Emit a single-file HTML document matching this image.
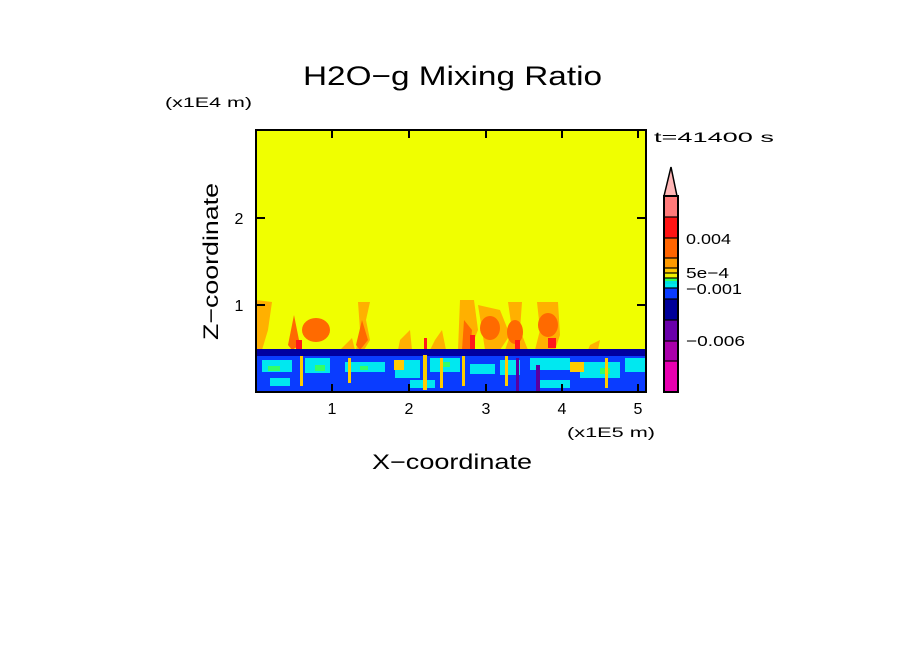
<!DOCTYPE html>
<html><head><meta charset="utf-8"><style>
body{margin:0;background:#fff;}
svg{display:block;font-family:"Liberation Sans",sans-serif;}
</style></head><body>
<svg width="904" height="654" viewBox="0 0 904 654" xmlns="http://www.w3.org/2000/svg">
<text x="303" y="85" font-size="27" textLength="299" lengthAdjust="spacingAndGlyphs" fill="#000">H2O−g Mixing Ratio</text>
<text x="165" y="107" font-size="14" textLength="87" lengthAdjust="spacingAndGlyphs" fill="#000">(x1E4 m)</text>
<text x="654" y="142" font-size="14" textLength="120" lengthAdjust="spacingAndGlyphs" fill="#000">t=41400 s</text>
<defs><clipPath id="c"><rect x="256" y="130" width="390" height="262"/></clipPath></defs>
<g clip-path="url(#c)">
<rect x="256" y="130" width="390" height="262" fill="#f0ff00"/>
<g fill="#ffb000">
<path d="M256 300 L272 302 L268 330 L262 350 L256 350Z"/>
<path d="M358 302 L370 302 L366 320 L370 340 L364 350 L356 350 L360 330Z"/>
<path d="M460 300 L474 300 L478 330 L470 350 L458 350Z"/>
<path d="M478 305 L500 310 L510 335 L500 350 L485 350 L482 330Z"/>
<path d="M508 302 L522 302 L520 330 L528 350 L505 350 L512 330Z"/>
<path d="M537 302 L558 302 L560 335 L555 350 L535 350 L540 330Z"/>
<path d="M400 340 L410 330 L412 350 L398 350Z"/><path d="M435 340 L442 330 L446 350 L430 350Z"/>
<path d="M590 345 L600 340 L598 350 L588 350Z"/><path d="M345 345 L352 338 L355 350 L340 350Z"/>
</g>
<g fill="#ff6a00">
<ellipse cx="316" cy="330" rx="14" ry="12"/>
<path d="M294 315 L300 345 L292 350 L288 345Z"/>
<path d="M464 320 L472 330 L470 350 L462 350Z"/>
<ellipse cx="490" cy="328" rx="10" ry="12"/>
<ellipse cx="515" cy="332" rx="8" ry="12"/>
<ellipse cx="548" cy="325" rx="10" ry="12"/>
<path d="M362 320 L368 340 L360 350 L356 345Z"/>
</g>
<g fill="#ff1a1a">
<rect x="296" y="340" width="6" height="10"/><rect x="470" y="335" width="5" height="15"/>
<rect x="515" y="340" width="5" height="10"/><rect x="548" y="338" width="8" height="10"/>
<rect x="424" y="338" width="3" height="12"/>
</g>
<rect x="256" y="349" width="390" height="43" fill="#0a3cff"/>
<rect x="256" y="349" width="390" height="7" fill="#0000a0"/>
<g fill="#00e8f0">
<rect x="262" y="360" width="30" height="12"/><rect x="305" y="358" width="25" height="15"/>
<rect x="345" y="362" width="40" height="10"/><rect x="395" y="360" width="25" height="18"/>
<rect x="430" y="358" width="30" height="14"/><rect x="470" y="364" width="25" height="10"/>
<rect x="500" y="360" width="20" height="15"/><rect x="530" y="358" width="40" height="12"/>
<rect x="580" y="362" width="40" height="16"/><rect x="625" y="358" width="20" height="14"/>
<rect x="270" y="378" width="20" height="8"/><rect x="410" y="380" width="25" height="8"/>
<rect x="540" y="380" width="30" height="8"/>
</g>
<g fill="#33ff66">
<rect x="268" y="366" width="12" height="5"/><rect x="315" y="365" width="10" height="6"/>
<rect x="440" y="362" width="10" height="5"/><rect x="600" y="368" width="10" height="6"/>
<rect x="360" y="366" width="8" height="4"/>
</g>
<g fill="#ffcc00">
<rect x="394" y="360" width="10" height="10"/><rect x="570" y="362" width="14" height="10"/>
<rect x="423" y="355" width="4" height="35"/><rect x="300" y="356" width="3" height="30"/>
<rect x="348" y="358" width="3" height="25"/><rect x="462" y="356" width="3" height="30"/>
<rect x="505" y="356" width="3" height="30"/><rect x="440" y="358" width="3" height="30"/>
<rect x="605" y="358" width="3" height="30"/>
</g>
<g fill="#5a00a0">
<rect x="516" y="358" width="3" height="34"/><rect x="536" y="365" width="4" height="27"/>
</g>
</g>
<rect x="256" y="130" width="390" height="262" fill="none" stroke="#000" stroke-width="2"/>
<g stroke="#000" stroke-width="2">
<line x1="332" y1="392" x2="332" y2="384"/><line x1="409" y1="392" x2="409" y2="384"/>
<line x1="486" y1="392" x2="486" y2="384"/><line x1="562" y1="392" x2="562" y2="384"/>
<line x1="638" y1="392" x2="638" y2="384"/>
<line x1="332" y1="130" x2="332" y2="138"/><line x1="409" y1="130" x2="409" y2="138"/>
<line x1="486" y1="130" x2="486" y2="138"/><line x1="562" y1="130" x2="562" y2="138"/>
<line x1="638" y1="130" x2="638" y2="138"/>
<line x1="256" y1="305" x2="265" y2="305"/><line x1="256" y1="218" x2="265" y2="218"/>
<line x1="646" y1="305" x2="637" y2="305"/><line x1="646" y1="218" x2="637" y2="218"/>
</g>
<g font-size="16" fill="#000" text-anchor="middle">
<text x="332" y="414">1</text><text x="409" y="414">2</text><text x="486" y="414">3</text>
<text x="562" y="414">4</text><text x="638" y="414">5</text>
<text x="239" y="311">1</text><text x="239" y="224">2</text>
</g>
<text x="567" y="437" font-size="14" textLength="88" lengthAdjust="spacingAndGlyphs">(x1E5 m)</text>
<text x="372" y="469" font-size="21" textLength="160" lengthAdjust="spacingAndGlyphs">X−coordinate</text>
<text transform="translate(218,340) rotate(-90)" font-size="21" textLength="157" lengthAdjust="spacingAndGlyphs">Z−coordinate</text>
<path d="M664 196 L671 167 L677 196Z" fill="#ffb6b6" stroke="#000" stroke-width="1.5"/>
<rect x="664" y="196" width="14" height="21" fill="#ff7a7a"/>
<rect x="664" y="217" width="14" height="21" fill="#ff1414"/>
<rect x="664" y="238" width="14" height="20" fill="#ff6400"/>
<rect x="664" y="258" width="14" height="10" fill="#ff9a00"/>
<rect x="664" y="268" width="14" height="5" fill="#ffc800"/>
<rect x="664" y="273" width="14" height="5" fill="#f0f000"/>
<rect x="664" y="278" width="14" height="3" fill="#33ff55"/>
<rect x="664" y="281" width="14" height="3" fill="#00e0e0"/>
<rect x="664" y="284" width="14" height="4" fill="#00e8f0"/>
<rect x="664" y="288" width="14" height="11" fill="#0a3cff"/>
<rect x="664" y="299" width="14" height="21" fill="#000099"/>
<rect x="664" y="320" width="14" height="21" fill="#6a00aa"/>
<rect x="664" y="341" width="14" height="20" fill="#aa00aa"/>
<rect x="664" y="361" width="14" height="31" fill="#e800b0"/>
<g stroke="#000" stroke-width="1.2">
<line x1="664" y1="217" x2="678" y2="217"/><line x1="664" y1="238" x2="678" y2="238"/>
<line x1="664" y1="258" x2="678" y2="258"/><line x1="664" y1="268" x2="678" y2="268"/>
<line x1="664" y1="273" x2="678" y2="273"/><line x1="664" y1="278" x2="678" y2="278"/>
<line x1="664" y1="288" x2="678" y2="288"/><line x1="664" y1="299" x2="678" y2="299"/>
<line x1="664" y1="320" x2="678" y2="320"/><line x1="664" y1="341" x2="678" y2="341"/>
<line x1="664" y1="361" x2="678" y2="361"/>
</g>
<rect x="664" y="196" width="14" height="196" fill="none" stroke="#000" stroke-width="2"/>
<g font-size="15" fill="#000">
<text x="686" y="244" textLength="45" lengthAdjust="spacingAndGlyphs">0.004</text>
<text x="686" y="278" textLength="43" lengthAdjust="spacingAndGlyphs">5e−4</text>
<text x="686" y="294" textLength="56" lengthAdjust="spacingAndGlyphs">−0.001</text>
<text x="686" y="346" textLength="59" lengthAdjust="spacingAndGlyphs">−0.006</text>
</g>
</svg>
</body></html>
